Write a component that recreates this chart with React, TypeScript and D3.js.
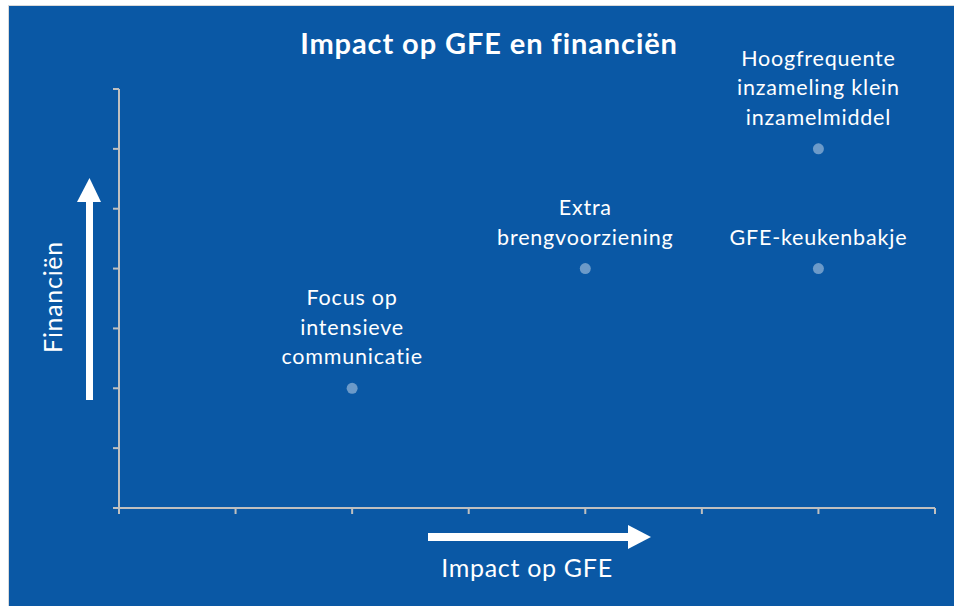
import * as d3 from "d3";

// Matrix: impact op GFE (x) vs financiën (y), schaal 0..7
const measures = [
  ["Focus op", "intensieve", "communicatie"],
  ["Extra", "brengvoorziening"],
  ["GFE-keukenbakje"],
  ["Hoogfrequente", "inzameling klein", "inzamelmiddel"],
];
const impact = [2, 4, 6, 6];
const finances = [2, 4, 4, 6];
const tickValues = [0, 1, 2, 3, 4, 5, 6, 7];

const title = "Impact op GFE en financiën";
const xTitle = "Impact op GFE";
const yTitle = "Financiën";

const W = 954;
const H = 606;
const BLUE = "#0A58A5";
const AXIS = "#BFBFBF";
const FONT = "Lato, 'Open Sans', sans-serif";

export default function App() {
  const x = d3.scaleLinear().domain([0, 7]).range([119, 935]);
  const y = d3.scaleLinear().domain([0, 7]).range([508, 89]);
  const lineH = 29.5;

  return (
    <div style={{ position: "fixed", left: 0, top: 0 }}>
      <svg width={W} height={H} style={{ display: "block" }}>
        <rect x={0} y={0} width={W} height={H} fill="#fff" />
        <rect x={8} y={5} width={W - 8} height={H - 5} fill="#D9D9D9" />
        <rect x={9} y={6} width={W - 9} height={H - 6} fill={BLUE} />

        <text
          x={489}
          y={54}
          textAnchor="middle"
          fill="#fff"
          fontFamily={FONT}
          fontWeight="bold"
          fontSize={29}
          letterSpacing={0.9}
        >
          {title}
        </text>

        {/* axes */}
        <g stroke={AXIS} strokeWidth={2}>
          <line x1={x(0)} x2={x(7)} y1={y(0)} y2={y(0)} />
          <line x1={x(0)} x2={x(0)} y1={y(0)} y2={y(7)} />
          {tickValues.map((t) => (
            <line key={"x" + t} x1={x(t)} x2={x(t)} y1={y(0)} y2={y(0) + 6} />
          ))}
          {tickValues.map((t) => (
            <line key={"y" + t} x1={x(0) - 6} x2={x(0)} y1={y(t)} y2={y(t)} />
          ))}
        </g>

        {/* points with labels */}
        {measures.map((lines, i) => {
          const cx = x(impact[i]);
          const cy = y(finances[i]);
          return (
            <g key={i}>
              <circle cx={cx} cy={cy} r={5.5} fill="#fff" fillOpacity={0.4} />
              {lines.map((l, j) => (
                <text
                  key={j}
                  x={cx}
                  y={cy - 24 - (lines.length - 1 - j) * lineH}
                  textAnchor="middle"
                  fill="#fff"
                  fontFamily={FONT}
                  fontSize={21.5}
                  letterSpacing={0.8}
                >
                  {l}
                </text>
              ))}
            </g>
          );
        })}

        {/* y arrow */}
        <rect x={86} y={200} width={7} height={200} fill="#fff" />
        <polygon points="77,202 101,202 89.5,178" fill="#fff" />
        <text
          transform="translate(62,297) rotate(-90)"
          textAnchor="middle"
          fill="#fff"
          fontFamily={FONT}
          fontSize={25}
          letterSpacing={0.7}
        >
          {yTitle}
        </text>

        {/* x arrow */}
        <rect x={428} y={533} width={202} height={8} fill="#fff" />
        <polygon points="628,525 628,549 651,537" fill="#fff" />
        <text
          x={527}
          y={577}
          textAnchor="middle"
          fill="#fff"
          fontFamily={FONT}
          fontSize={25}
          letterSpacing={0.7}
        >
          {xTitle}
        </text>
      </svg>
    </div>
  );
}
